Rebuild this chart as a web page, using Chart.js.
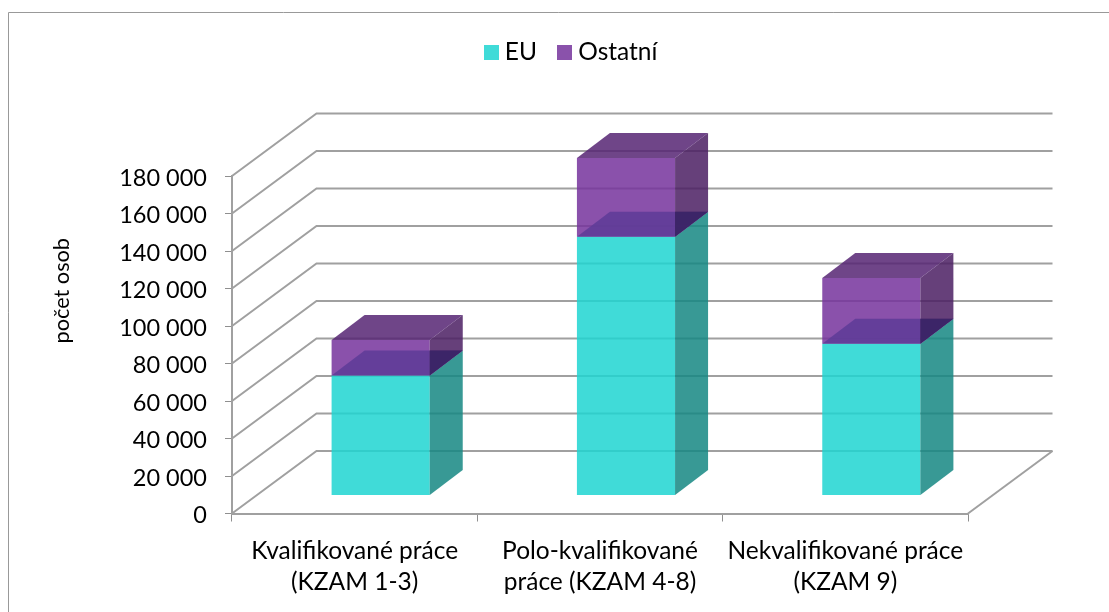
<!DOCTYPE html>
<html><head><meta charset="utf-8">
<style>html,body{margin:0;padding:0;background:#fff}#w{width:1109px;height:612px}</style>
<script src="https://cdn.jsdelivr.net/npm/chart.js@4"></script></head>
<body><div id="w"><canvas id="c" width="1109" height="612"></canvas></div>
<script>
const categories=[['Kvalifikované práce','(KZAM 1-3)'],['Polo-kvalifikované','práce (KZAM 4-8)'],['Nekvalifikované práce','(KZAM 9)']];
const euValues=[64000,138000,81000];
const otherValues=[19000,42000,35000];
const yTicks=[0,20000,40000,60000,80000,100000,120000,140000,160000,180000];
const FONT='Lato, Carlito, sans-serif';
const GRID='#a0a0a0';
const SHIFT={x:26,y:-18}, DEPTH={x:33,y:-25}, WALL={x:84.5,y:-62.5};
const LEGEND_SHIFT=65, FRAME_RIGHT=1109, FRAME_BOTTOM=612, LEGEND_TOP=14, PLOT_TOP=176;

function poly(ctx,pts,fill){ctx.beginPath();pts.forEach((p,i)=>i?ctx.lineTo(p[0],p[1]):ctx.moveTo(p[0],p[1]));ctx.closePath();ctx.fillStyle=fill;ctx.fill();}
function swatch(col){const k=document.createElement('canvas');k.width=15;k.height=15;const x=k.getContext('2d');x.fillStyle=col;x.fillRect(0,0,15,15);return k;}
const swatches=[swatch('#40dbd8'),swatch('#8a52ab')];

const scene={id:'scene',
 beforeLayout(chart){
  const lg=chart.legend;
  if(!lg._wrapped){lg._wrapped=1;const f=lg.fit;lg.fit=function(){f.call(this);this.height=PLOT_TOP-LEGEND_TOP;};}
 },
 afterLayout(chart){
  const lg=chart.legend;
  lg.left+=LEGEND_SHIFT; lg.right+=LEGEND_SHIFT;
  const y=chart.scales.y;
  if(!y._wrapped){y._wrapped=1;const o=y.drawTitle;y.drawTitle=function(){const c=this.ctx;c.save();c.translate(0,-54);o.call(this);c.restore();};}
 },
 beforeDraw(chart){
  const c=chart.ctx;c.save();c.strokeStyle='#999';c.lineWidth=1;
  c.beginPath();c.moveTo(8.5,FRAME_BOTTOM);c.lineTo(8.5,12.5);c.lineTo(FRAME_RIGHT,12.5);c.stroke();c.restore();
 },
 beforeDatasetsDraw(chart){
  const c=chart.ctx,y=chart.scales.y,a=chart.chartArea;
  c.save();c.strokeStyle=GRID;c.lineWidth=2;c.lineJoin='miter';
  y.ticks.forEach(t=>{const p=y.getPixelForValue(t.value);
   c.beginPath();c.moveTo(a.left,p);c.lineTo(a.left+WALL.x,p+WALL.y);c.lineTo(a.right+WALL.x,p+WALL.y);c.stroke();});
  const p0=y.getPixelForValue(0);
  c.beginPath();c.moveTo(a.right,p0);c.lineTo(a.right+WALL.x,p0+WALL.y);c.stroke();
  c.restore();
 },
 beforeDatasetDraw(chart){chart.ctx.save();chart.ctx.translate(SHIFT.x,SHIFT.y);},
 afterDatasetDraw(chart){chart.ctx.restore();},
 afterDatasetsDraw(chart){
  const c=chart.ctx,dx=DEPTH.x,dy=DEPTH.y;
  const eu=chart.getDatasetMeta(0).data, ot=chart.getDatasetMeta(1).data;
  c.save();c.translate(SHIFT.x,SHIFT.y);
  eu.forEach((e,i)=>{
   const o=ot[i],l=e.x-e.width/2,r=e.x+e.width/2,b=e.base,m=e.y,t=o.y;
   poly(c,[[r,m],[r+dx,m+dy],[r+dx,b+dy],[r,b]],'rgba(21,135,130,.85)');
   poly(c,[[l,m],[l+dx,m+dy],[r+dx,m+dy],[r,m]],'rgba(94,60,152,.85)');
   poly(c,[[r,t],[r+dx,t+dy],[r+dx,m+dy],[r,m]],'rgba(75,30,99,.85)');
   poly(c,[[r,m+dy],[r+dx,m+dy],[r,m]],'rgba(58,38,104,.85)');
   poly(c,[[l,t],[l+dx,t+dy],[r+dx,t+dy],[r,t]],'rgba(86,36,115,.85)');
  });
  c.restore();
 }
};
Chart.register(scene);
new Chart(document.getElementById('c'),{type:'bar',
 data:{labels:categories,datasets:[
  {label:'EU',data:euValues,backgroundColor:'rgba(30,213,209,.85)',stack:'s',clip:false,borderWidth:0},
  {label:'Ostatní',data:otherValues,backgroundColor:'rgba(117,51,156,.85)',stack:'s',clip:false,borderWidth:0}]},
 options:{responsive:false,animation:false,
  layout:{padding:{left:49,right:141,top:LEGEND_TOP,bottom:0}},
  barPercentage:.4,categoryPercentage:1,
  plugins:{tooltip:{enabled:false},
   legend:{position:'top',labels:{usePointStyle:true,boxWidth:3,boxHeight:15,color:'#000',font:{family:FONT,size:24.5},padding:26,
    generateLabels(chart){return Chart.defaults.plugins.legend.labels.generateLabels(chart).map((it,i)=>({...it,pointStyle:swatches[i]}));}}}},
  scales:{
   x:{stacked:true,offset:true,
    afterFit(s){s.height=98.5;},
    grid:{display:true,offset:true,drawOnChartArea:false,color:'#8f8f8f',tickLength:8,tickWidth:1},
    border:{display:true,color:GRID,width:2},
    ticks:{color:'#000',maxRotation:0,autoSkip:false,padding:14,font:{family:FONT,size:24.5,lineHeight:'31px'}}},
   y:{stacked:true,min:0,max:180000,
    afterFit(s){s.width=183;},
    afterBuildTicks(s){s.ticks=yTicks.map(v=>({value:v}));},
    grid:{display:true,drawOnChartArea:false,color:'#8f8f8f',tickLength:7,tickWidth:1},
    border:{display:true,color:GRID,width:2},
    title:{display:true,text:'počet osob',color:'#000',font:{family:FONT,size:21.7},padding:0},
    ticks:{color:'#000',padding:18,labelOffset:2,font:{family:FONT,size:23.5},callback:v=>String(v).replace(/\B(?=(\d{3})+$)/g,' ')}}
  }}});
</script></body></html>
